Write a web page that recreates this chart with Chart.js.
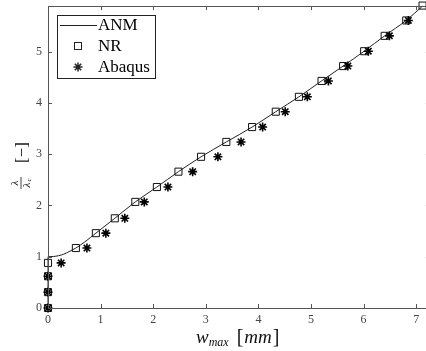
<!DOCTYPE html>
<html>
<head>
<meta charset="utf-8">
<script src="https://cdn.jsdelivr.net/npm/chart.js@4/dist/chart.umd.min.js"></script>
<style>
html,body{margin:0;padding:0;background:#fff;overflow:hidden;}
#wrap{width:426px;height:351px;position:relative;overflow:hidden;}
</style>
</head>
<body>
<div id="wrap"><canvas id="c" width="436" height="351"></canvas></div>
<script>
// ANM curve
const anmX = [0, 0, 0.1, 0.2, 0.3, 0.4, 0.53, 0.7, 0.91, 1.27, 1.66, 2.07, 2.48, 2.91, 3.39, 3.88, 4.33, 4.77, 5.20, 5.61, 6.01, 6.40, 6.81, 7.12];
const anmY = [0, 1.0, 1.005, 1.02, 1.05, 1.10, 1.17, 1.29, 1.46, 1.75, 2.07, 2.36, 2.66, 2.95, 3.24, 3.53, 3.83, 4.12, 4.43, 4.72, 5.01, 5.31, 5.61, 5.89];
// NR markers
const nrX = [0, 0, 0, 0, 0.53, 0.91, 1.27, 1.66, 2.07, 2.48, 2.91, 3.39, 3.88, 4.33, 4.77, 5.20, 5.61, 6.01, 6.40, 6.81, 7.12];
const nrY = [0, 0.31, 0.62, 0.88, 1.17, 1.46, 1.75, 2.07, 2.36, 2.66, 2.95, 3.24, 3.53, 3.83, 4.12, 4.43, 4.72, 5.01, 5.31, 5.61, 5.90];
// Abaqus markers
const abX = [0, 0, 0, 0.25, 0.74, 1.10, 1.46, 1.83, 2.28, 2.75, 3.23, 3.67, 4.08, 4.51, 4.93, 5.33, 5.70, 6.09, 6.49, 6.85];
const abY = [0, 0.31, 0.62, 0.88, 1.17, 1.46, 1.75, 2.07, 2.36, 2.66, 2.95, 3.24, 3.53, 3.83, 4.12, 4.43, 4.72, 5.01, 5.31, 5.61];
// Ticks
const xTicks = [0, 1, 2, 3, 4, 5, 6, 7];
const yTicks = [0, 1, 2, 3, 4, 5];
const legendLabels = ['ANM', 'NR', 'Abaqus'];

const toPts = (xs, ys) => xs.map((x, i) => ({x: x, y: ys[i]}));
const SERIF = '"Liberation Serif", "DejaVu Serif", serif';

const decor = {
  id: 'decor',
  afterDatasetsDraw(chart) {
    const ctx = chart.ctx, a = chart.chartArea;
    const xs = chart.scales.x, ys = chart.scales.y;
    ctx.save();
    // frame
    ctx.strokeStyle = '#555';
    ctx.lineWidth = 1;
    ctx.beginPath();
    ctx.moveTo(Math.round(a.left) + 0.5, Math.round(a.bottom) + 0.5);
    ctx.lineTo(Math.round(a.left) + 0.5, Math.round(a.top) + 0.5);
    ctx.lineTo(Math.round(a.right) + 0.5, Math.round(a.top) + 0.5);
    ctx.lineTo(Math.round(a.right) + 0.5, Math.round(a.bottom) + 0.5);
    ctx.lineTo(Math.round(a.left) + 0.5, Math.round(a.bottom) + 0.5);
    ctx.stroke();
    // inward ticks
    ctx.beginPath();
    xTicks.forEach(v => {
      const px = Math.round(xs.getPixelForValue(v)) + 0.5;
      ctx.moveTo(px, a.bottom); ctx.lineTo(px, a.bottom - 4);
      ctx.moveTo(px, a.top); ctx.lineTo(px, a.top + 4);
    });
    yTicks.forEach(v => {
      const py = Math.round(ys.getPixelForValue(v)) + 0.5;
      ctx.moveTo(a.left, py); ctx.lineTo(a.left + 4, py);
      ctx.moveTo(a.right, py); ctx.lineTo(a.right - 4, py);
    });
    ctx.stroke();

    // legend
    const lx = 57, ly = 15, lw = 98, lh = 63;
    ctx.fillStyle = '#fff';
    ctx.fillRect(lx, ly, lw, lh);
    ctx.strokeStyle = '#222';
    ctx.strokeRect(lx + 0.5, ly + 0.5, lw, lh);
    ctx.font = '17px ' + SERIF;
    ctx.fillStyle = '#000';
    ctx.textBaseline = 'middle';
    ctx.textAlign = 'left';
    const rows = [25, 46, 67];
    ctx.strokeStyle = '#222';
    ctx.beginPath();
    ctx.moveTo(60, rows[0] + 0.5); ctx.lineTo(97, rows[0] + 0.5);
    ctx.stroke();
    ctx.strokeRect(74.5, rows[1] - 3.5, 7, 7);
    ctx.lineWidth = 1.5;
    ctx.beginPath();
    const sx = 78, sy = rows[2], r = 4.5;
    for (let k = 0; k < 4; k++) {
      const ang = k * Math.PI / 4;
      ctx.moveTo(sx + r * Math.cos(ang), sy + r * Math.sin(ang));
      ctx.lineTo(sx - r * Math.cos(ang), sy - r * Math.sin(ang));
    }
    ctx.stroke();
    legendLabels.forEach((t, i) => ctx.fillText(t, 98, rows[i] + 1));

    // x axis title: w_max [mm]
    ctx.fillStyle = '#111';
    ctx.textBaseline = 'alphabetic';
    let x = 196; const by = 343;
    ctx.font = 'italic 19px ' + SERIF;
    ctx.fillText('w', x, by); x += ctx.measureText('w').width;
    ctx.font = 'italic 12px ' + SERIF;
    ctx.fillText('max', x, by + 3); x += ctx.measureText('max').width + 8;
    ctx.font = '20px ' + SERIF;
    ctx.fillText('[', x, by); x += ctx.measureText('[').width + 1;
    ctx.font = 'italic 19px ' + SERIF;
    ctx.fillText('mm', x, by); x += ctx.measureText('mm').width + 1;
    ctx.font = '20px ' + SERIF;
    ctx.fillText(']', x, by);

    // y axis title: λ/λc [−] rotated
    ctx.translate(21, 165);
    ctx.rotate(-Math.PI / 2);
    ctx.textAlign = 'center';
    ctx.textBaseline = 'alphabetic';
    ctx.font = 'italic 11px ' + SERIF;
    ctx.fillText('λ', -18, -3);
    ctx.fillText('λ', -20, 9);
    ctx.font = 'italic 7px ' + SERIF;
    ctx.fillText('c', -15, 10);
    ctx.strokeStyle = '#111';
    ctx.lineWidth = 0.8;
    ctx.beginPath(); ctx.moveTo(-24, 0); ctx.lineTo(-12, 0); ctx.stroke();
    ctx.font = '17px ' + SERIF;
    ctx.textAlign = 'left';
    ctx.fillText('[−]', 2, 6);
    ctx.restore();
  }
};

new Chart(document.getElementById('c'), {
  type: 'scatter',
  data: {
    datasets: [
      {
        label: legendLabels[0],
        data: toPts(anmX, anmY),
        showLine: true,
        borderColor: '#222',
        borderWidth: 1,
        pointRadius: 0,
        cubicInterpolationMode: 'monotone',
        clip: false,
        order: 3
      },
      {
        label: legendLabels[1],
        data: toPts(nrX, nrY),
        pointStyle: 'rect',
        pointRadius: 5,
        borderColor: '#111',
        borderWidth: 1,
        backgroundColor: 'rgba(0,0,0,0)',
        clip: false,
        order: 2
      },
      {
        label: legendLabels[2],
        data: toPts(abX, abY),
        pointStyle: 'star',
        pointRadius: 4.5,
        borderColor: '#000',
        borderWidth: 1.6,
        backgroundColor: '#000',
        clip: false,
        order: 1
      }
    ]
  },
  options: {
    responsive: false,
    animation: false,
    events: [],
    layout: {padding: {top: 6, right: 4, left: 0, bottom: 0}},
    plugins: {legend: {display: false}, tooltip: {enabled: false}},
    scales: {
      x: {
        type: 'linear', min: 0, max: 7.26,
        afterBuildTicks: s => { s.ticks = xTicks.map(v => ({value: v})); },
        afterFit: s => { s.height = 43; s.paddingLeft = 0; s.paddingRight = 0; },
        grid: {display: false, drawTicks: false},
        border: {display: false},
        ticks: {color: '#444', font: {family: SERIF, size: 12}, padding: 5, maxRotation: 0}
      },
      y: {
        type: 'linear', min: 0, max: 5.89,
        afterBuildTicks: s => { s.ticks = yTicks.map(v => ({value: v})); },
        afterFit: s => { s.width = 48; s.paddingTop = 0; s.paddingBottom = 0; },
        grid: {display: false, drawTicks: false},
        border: {display: false},
        ticks: {color: '#444', font: {family: SERIF, size: 12}, padding: 6}
      }
    }
  },
  plugins: [decor]
});
</script>
</body>
</html>
